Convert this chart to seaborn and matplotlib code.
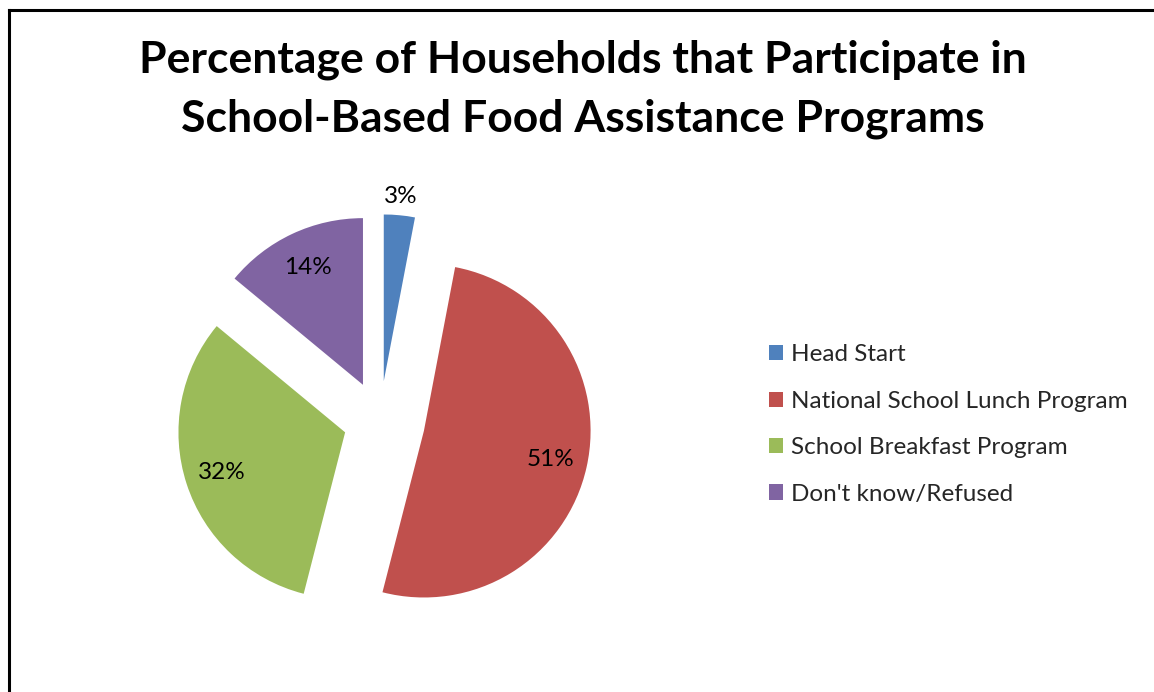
import matplotlib
matplotlib.use("Agg")
import matplotlib.pyplot as plt
from matplotlib.lines import Line2D
import numpy as np
import seaborn as sns

# Survey shares (percent of households)
programs = ["Head Start", "National School Lunch Program",
            "School Breakfast Program", "Don't know/Refused"]
shares = [3, 51, 32, 14]
explode = [0.24, 0.27, 0.22, 0.24]
colors = ["#4F81BD", "#C0504D", "#9BBB59", "#8064A2"]
title = "Percentage of Households that Participate in\nSchool-Based Food Assistance Programs"

sns.set_theme(style="white")
plt.rcParams["font.family"] = ["Lato", "DejaVu Sans"]

W, H = 1154, 692
fig = plt.figure(figsize=(W / 100, H / 100), dpi=100)
fig.patch.set_facecolor("white")

# Pie axes: 500 px square, data range +-1.5 (1 unit = radius)
cx, cy, half = 380, 421, 250
ax = fig.add_axes([(cx - half) / W, (H - cy - half) / H, 2 * half / W, 2 * half / H])
palette = sns.color_palette(colors)
wedges, texts, autotexts = ax.pie(
    shares, explode=explode, colors=palette, startangle=90, counterclock=False,
    autopct=lambda p: f"{p:.0f}%", pctdistance=0.78,
    textprops=dict(fontsize=17.5, color="black"),
    wedgeprops=dict(linewidth=0),
)
ax.set_xlim(-1.5, 1.5)
ax.set_ylim(-1.5, 1.5)
ax.set_aspect("equal")
ax.axis("off")

# The small slice carries its label just outside the rim
w0 = wedges[0]
mid = np.deg2rad((w0.theta1 + w0.theta2) / 2)
autotexts[0].set_position((w0.center[0] + 1.11 * w0.r * np.cos(mid),
                           w0.center[1] + 1.11 * w0.r * np.sin(mid)))

fig.text(583 / W, 1 - 40 / H, title, ha="center", va="top",
         fontsize=32, fontweight="bold", linespacing=1.55, color="black")

fig.legend(wedges, programs, loc="center left",
           bbox_to_anchor=(769 / W, 1 - 424.5 / H), frameon=False,
           fontsize=17.5, handlelength=0.58, handleheight=0.58,
           handletextpad=0.32, labelspacing=1.045, borderpad=0, borderaxespad=0)

# Chart border (left and top edges)
lw = 2.2
fig.add_artist(Line2D([9 / W, 9 / W], [0, 1 - 9.5 / H], color="black", lw=lw,
                      transform=fig.transFigure, solid_capstyle="projecting"))
fig.add_artist(Line2D([9 / W, 1], [1 - 9.5 / H, 1 - 9.5 / H], color="black", lw=lw,
                      transform=fig.transFigure, solid_capstyle="projecting"))

fig.savefig("out.png", dpi=100, facecolor="white")
